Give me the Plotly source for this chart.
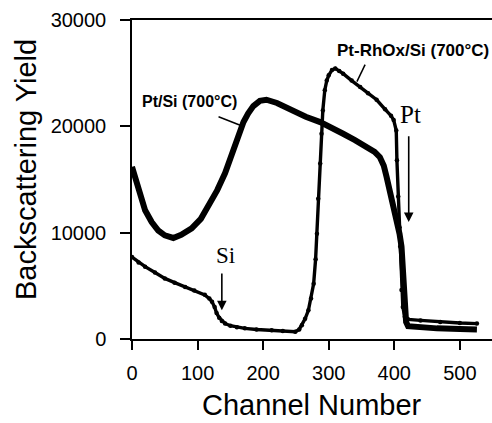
import plotly.graph_objects as go

# Pt/Si (700°C) spectrum
ptsi_ch = [0, 10, 20, 30, 40, 50, 63, 75, 91, 105, 116, 130, 142, 152, 162, 170, 177, 185,
           195, 205, 221, 235, 246, 265, 287, 305, 322, 340, 358, 370, 378, 384, 388, 392,
           396, 400, 404, 408, 411, 413, 414, 415, 416, 418, 421, 440, 465, 500, 526]
ptsi_y = [16200, 13900, 12100, 11000, 10200, 9750, 9500, 9800, 10400, 11300, 12400, 14000,
          15600, 17300, 19300, 20400, 21200, 21900, 22400, 22500, 22200, 21800, 21400, 20900,
          20400, 19900, 19300, 18700, 18100, 17600, 17100, 16300, 15300, 14300, 13400, 12300,
          11200, 9900, 8700, 6800, 5500, 4000, 2500, 1600, 1200, 1100, 1000, 950, 900]

# Pt-RhOx/Si (700°C) spectrum
ptrh_ch = [0, 10, 20, 35, 50, 65, 81, 95, 111, 118, 122, 126, 129, 133, 137, 142, 150, 160,
           172, 190, 213, 230, 249, 255, 259, 264, 269, 273, 277, 280, 282, 284, 287, 289,
           291, 294, 297, 300, 305, 310, 316, 322, 335, 348, 360, 373, 386, 395, 399, 403,
           404, 406, 408, 409, 411, 413, 416, 421, 440, 470, 500, 526]
ptrh_y = [7700, 7200, 6800, 6250, 5700, 5300, 4900, 4550, 4150, 3800, 3500, 3000, 2450, 2000,
          1700, 1450, 1250, 1100, 1000, 900, 820, 750, 690, 900, 1300, 1900, 2700, 3800, 5200,
          7500, 9900, 13200, 16500, 19300, 21500, 23400, 24300, 24800, 25300, 25450, 25200,
          24950, 24300, 23700, 23100, 22500, 21600, 21000, 20600, 19600, 16800, 13400, 10500,
          8700, 4600, 3000, 2100, 1850, 1750, 1600, 1500, 1450]

x_ticks = [0, 100, 200, 300, 400, 500]
y_ticks = [0, 10000, 20000, 30000]

W, H = 492, 423
L, R, T, B = 132, 0, 20, 84
pw, ph = W - L - R, H - T - B


def px_x(p):
    return (p - L) / pw


def px_y(p):
    return (H - B - p) / ph


fig = go.Figure()
fig.add_trace(go.Scatter(x=ptsi_ch, y=ptsi_y, mode="lines",
                         line=dict(color="black", width=6), showlegend=False))
fig.add_trace(go.Scatter(x=ptrh_ch, y=ptrh_y, mode="lines+markers",
                         line=dict(color="black", width=3.4),
                         marker=dict(color="black", size=4.5), showlegend=False))

sans = "Liberation Sans, Arial, sans-serif"
serif = "Liberation Serif, Times New Roman, serif"

ann = []
ann.append(dict(x=87, y=22300, xref="x", yref="y", text="<b>Pt/Si (700°C)</b>",
                showarrow=False, font=dict(family=sans, size=16, color="black"),
                xanchor="center", yanchor="middle"))
ann.append(dict(x=309, y=27150, xref="x", yref="y", text="<b>Pt-RhOx/Si (700°C)</b>",
                showarrow=False, font=dict(family=sans, size=17, color="black"),
                xanchor="left", yanchor="middle"))
ann.append(dict(x=142, y=7900, xref="x", yref="y", text="Si", showarrow=False,
                font=dict(family=serif, size=23, color="black"),
                xanchor="center", yanchor="middle"))
ann.append(dict(x=424, y=21100, xref="x", yref="y", text="Pt", showarrow=False,
                font=dict(family=serif, size=25, color="black"),
                xanchor="center", yanchor="middle"))
# arrows
ann.append(dict(x=137, y=2700, ax=137, ay=6300, xref="x", yref="y", axref="x", ayref="y",
                text="", showarrow=True, arrowhead=2, arrowsize=1.2, arrowwidth=1.6,
                arrowcolor="black"))
ann.append(dict(x=422, y=11000, ax=422, ay=19200, xref="x", yref="y", axref="x", ayref="y",
                text="", showarrow=True, arrowhead=2, arrowsize=1.2, arrowwidth=1.6,
                arrowcolor="black"))
# axis titles
ann.append(dict(x=px_x(26), y=px_y(170), xref="paper", yref="paper",
                text="Backscattering Yield", textangle=-90, showarrow=False,
                font=dict(family=sans, size=29, color="black"),
                xanchor="center", yanchor="middle"))
ann.append(dict(x=px_x(311.5), y=px_y(405), xref="paper", yref="paper",
                text="Channel Number", showarrow=False,
                font=dict(family=sans, size=29, color="black"),
                xanchor="center", yanchor="middle"))

shapes = [
    dict(type="line", xref="x", yref="y", x0=132, y0=20900, x1=165, y1=20100,
         line=dict(color="black", width=1.5)),
    dict(type="line", xref="x", yref="y", x0=355.5, y0=25800, x1=343, y1=24200,
         line=dict(color="black", width=1.5)),
]

fig.update_layout(
    width=W, height=H,
    margin=dict(l=L, r=R, t=T, b=B, pad=0),
    paper_bgcolor="white", plot_bgcolor="white",
    annotations=ann, shapes=shapes,
    xaxis=dict(range=[0, 549], tickvals=x_ticks, ticktext=[str(v) for v in x_ticks],
               ticks="outside", ticklen=9, tickwidth=1.5, tickcolor="black",
               showline=True, linecolor="black", linewidth=1.5, mirror=True,
               showgrid=False, zeroline=False, ticklabelstandoff=6,
               tickfont=dict(family=sans, size=20, color="black")),
    yaxis=dict(range=[0, 30000], tickvals=y_ticks, ticktext=[str(v) for v in y_ticks],
               ticks="outside", ticklen=10, tickwidth=1.5, tickcolor="black",
               showline=True, linecolor="black", linewidth=1.5,
               showgrid=False, zeroline=False, ticklabelstandoff=10,
               tickfont=dict(family=sans, size=20, color="black")),
)

fig.write_html("out.html")
